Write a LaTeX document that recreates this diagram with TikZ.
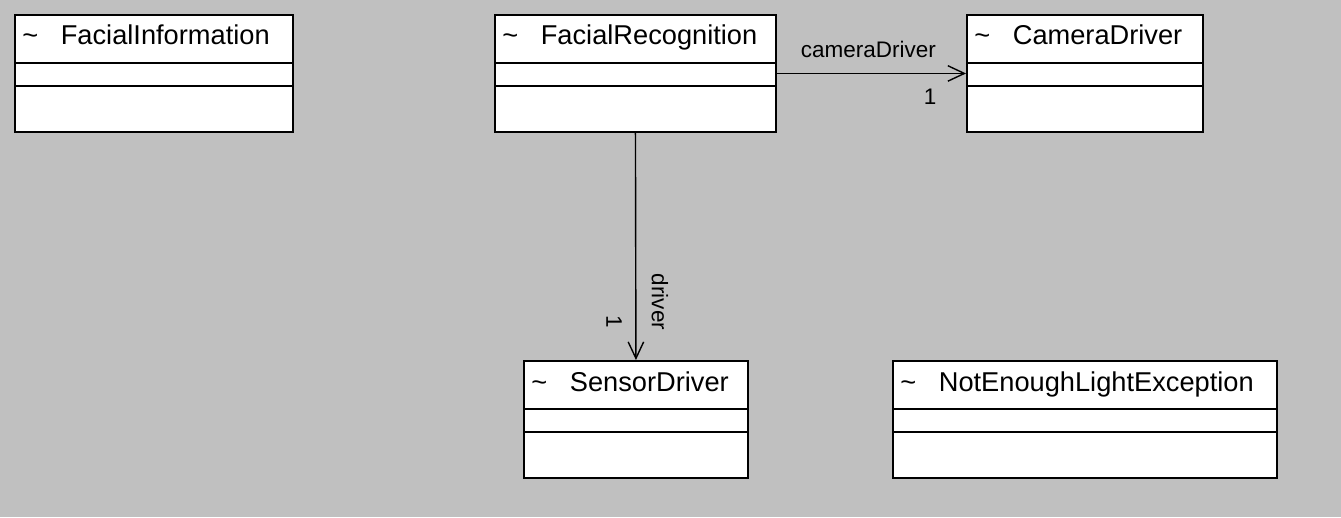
\documentclass[tikz,border=0pt]{standalone}
\usepackage{fontspec}
\setmainfont{Liberation Sans}
\usepackage{xcolor}
\definecolor{canvasgray}{RGB}{192,192,192}
\usetikzlibrary{arrows.meta,positioning,calc}
\tikzset{
  clsbox/.style={draw=black,fill=white,line width=1.1pt,inner sep=0pt,anchor=north west,minimum height=2.34cm},
  clsline/.style={black,line width=1.1pt},
  clstitle/.style={anchor=base west,inner sep=0pt,font=\fontsize{15.5}{18}\selectfont},
  assoc/.style={-{Straight Barb[length=0.33cm,width=0.31cm,line width=0.8pt]},line width=0.8pt},
  rolelab/.style={font=\fontsize{12.8}{15}\selectfont,inner sep=0pt},
}
\newcommand{\tildebox}{\makebox[0.77cm][l]{\textasciitilde}}

\begin{document}
\begin{tikzpicture}[x=0.02cm,y=-0.02cm]
        % canvas
        \fill[canvasgray] (0,0) rectangle (1341,517);
        \useasboundingbox (0,0) rectangle (1341,517);
        % classes
        \node[clsbox,minimum width=5.56cm] (fInfo) at (14,14) {};
        \node[clsbox,minimum width=5.62cm] (fRec) at (494,14) {};
        \node[clsbox,minimum width=4.72cm] (camDrv) at (966,14) {};
        \node[clsbox,minimum width=4.48cm] (senDrv) at (523,360) {};
        \node[clsbox,minimum width=7.68cm] (nelExc) at (892,360) {};
        % compartment lines
        \foreach \c in {fInfo,fRec,camDrv,senDrv,nelExc}
          \foreach \d in {49,72}
            \draw[clsline] ($(\c.north west)+(0,\d)$) -- ($(\c.north east)+(0,\d)$);
        % class names
        \node[clstitle] (fInfoT) at ($(fInfo.north west)+(8,31)$) {\tildebox FacialInformation};
        \node[clstitle] (fRecT) at ($(fRec.north west)+(8,31)$) {\tildebox FacialRecognition};
        \node[clstitle] (camDrvT) at ($(camDrv.north west)+(8,31)$) {\tildebox CameraDriver};
        \node[clstitle] (senDrvT) at ($(senDrv.north west)+(8,31)$) {\tildebox SensorDriver};
        \node[clstitle] (nelExcT) at ($(nelExc.north west)+(8,31)$) {\tildebox NotEnoughLightException};
        % associations
        \draw[assoc] (fRec.east) -- (camDrv.west)
              node[rolelab,pos=0.484,anchor=south,outer sep=9pt] (camRole) {cameraDriver}
              node[rolelab,pos=0.81,anchor=north,outer sep=9pt] (camMult) {1};
        \draw[assoc] (fRec.south) -- (senDrv.north)
              node[rolelab,pos=0.745,rotate=-90,anchor=south,outer sep=9pt] (senRole) {driver}
              node[rolelab,pos=0.83,rotate=-90,anchor=north,outer sep=8pt] (senMult) {1};
      \end{tikzpicture}
\end{document}
